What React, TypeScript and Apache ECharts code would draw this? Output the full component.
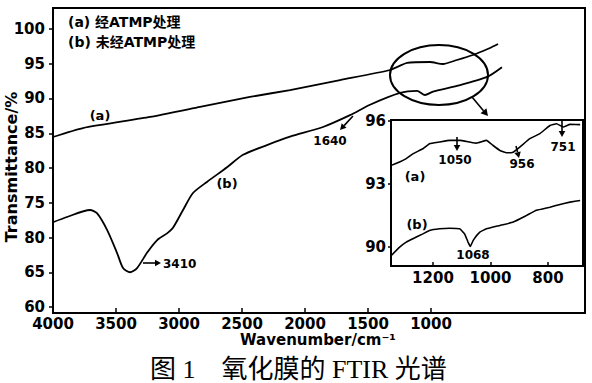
import React, { useEffect, useRef } from "react";
import * as echarts from "echarts";

// Main spectrum (a): treated with ATMP
const aMainWave = [4000, 3762, 3230, 2833, 2437, 2119, 1722, 1325, 1190, 1008, 905, 794, 667, 587, 532, 468];
const aMainT = [84.46, 85.75, 87.34, 88.78, 90.22, 91.22, 92.66, 94.1, 95.11, 95.25, 94.96, 95.54, 96.26, 96.83, 97.27, 97.84];

// Main spectrum (b): untreated
const bMainWave = [4000, 3889, 3706, 3651, 3571, 3492, 3444, 3389, 3333, 3254, 3175, 3095, 3048, 2968, 2889, 2778, 2619, 2492, 2302, 2119, 1857, 1643, 1484, 1246, 1111, 1048, 984, 794, 556, 437];
const bMainT = [72.2, 72.95, 73.96, 73.5, 71.1, 67.8, 65.6, 65.0, 65.6, 67.8, 69.6, 70.6, 71.4, 73.96, 76.4, 78.0, 80.1, 81.9, 83.3, 84.5, 85.9, 87.6, 89.1, 90.8, 91.1, 90.5, 91.0, 91.8, 93.1, 94.5];

// Inset (a)
const aInsetWave = [1345, 1316, 1293, 1270, 1235, 1212, 1177, 1142, 1107, 1072, 1049, 1014, 991, 967, 944, 921, 898, 863, 828, 793, 770, 747, 723, 688];
const aInsetT = [93.89, 94.05, 94.21, 94.44, 94.68, 94.92, 95.0, 95.08, 95.08, 95.0, 94.95, 95.08, 94.84, 94.6, 94.49, 94.52, 94.76, 95.16, 95.4, 95.79, 95.87, 95.72, 95.84, 95.83];

// Inset (b)
const bInsetWave = [1345, 1316, 1293, 1270, 1235, 1212, 1177, 1142, 1107, 1090, 1078, 1070, 1060, 1037, 1014, 967, 921, 874, 840, 793, 758, 723, 688];
const bInsetT = [89.6, 90.0, 90.24, 90.4, 90.63, 90.79, 90.87, 90.9, 90.87, 90.63, 90.24, 90.03, 90.32, 90.71, 90.87, 91.03, 91.19, 91.51, 91.75, 91.9, 92.03, 92.14, 92.22];

// Tick labels
const mainXTicks = [4000, 3500, 3000, 2500, 2000, 1500, 1000];
const mainYTicks = [60, 65, 70, 75, 80, 85, 90, 95, 100];
const mainYTickLabels = ["60", "65", "80", "75", "80", "85", "90", "95", "100"];
const insetXTicks = [1200, 1000, 800];
const insetYTicks = [90, 93, 96];

const legendLines = ["(a) 经ATMP处理", "(b) 未经ATMP处理"];
const xTitle = "Wavenumber/cm⁻¹";
const yTitle = "Transmittance/%";
const caption = "图 1　氧化膜的 FTIR 光谱";

const zip = (xs: number[], ys: number[]) => xs.map((x, i) => [x, ys[i]]);

const BOLD = "'DejaVu Sans', 'Noto Sans CJK SC', sans-serif";

function arrow(x1: number, y1: number, x2: number, y2: number, head = 6) {
  const ang = Math.atan2(y2 - y1, x2 - x1);
  const w = head * 0.55;
  const bx = x2 - head * Math.cos(ang);
  const by = y2 - head * Math.sin(ang);
  const px = -Math.sin(ang) * w;
  const py = Math.cos(ang) * w;
  return [
    { type: "line", shape: { x1, y1, x2: bx, y2: by }, style: { stroke: "#000", lineWidth: 1.6 }, z: 100 },
    {
      type: "polygon",
      shape: { points: [[x2, y2], [bx + px, by + py], [bx - px, by - py]] },
      style: { fill: "#000" },
      z: 100,
    },
  ];
}

function label(text: string, x: number, y: number, size = 12, align = "center") {
  return {
    type: "text",
    x,
    y,
    z: 100,
    style: {
      text,
      fontSize: size,
      fontWeight: "bold",
      fontFamily: BOLD,
      fill: "#000",
      align,
      verticalAlign: "middle",
    },
  };
}

export default function App() {
  const ref = useRef<HTMLDivElement>(null);

  useEffect(() => {
    if (!ref.current) return;
    const chart = echarts.init(ref.current, undefined, { renderer: "svg" });

    const axisLabelStyle = {
      color: "#000",
      fontSize: 15,
      fontWeight: "bold",
      fontFamily: BOLD,
    };
    const lineStyle = { color: "#000", width: 2 };
    const plain = (v: number) => String(Math.round(v));

    const option: any = {
      animation: false,
      backgroundColor: "#fff",
      grid: [
        {
          left: 53,
          top: 8,
          width: 532,
          height: 305,
          show: true,
          borderColor: "#000",
          borderWidth: 2,
          backgroundColor: "transparent",
        },
        {
          left: 391,
          top: 120,
          width: 192,
          height: 146,
          show: true,
          borderColor: "#000",
          borderWidth: 2,
          backgroundColor: "#fff",
          z: 5,
        },
      ],
      xAxis: [
        {
          gridIndex: 0,
          type: "value",
          inverse: true,
          min: -222,
          max: 4000,
          axisLine: { onZero: false, lineStyle },
          axisTick: { inside: true, length: 5, lineStyle: { color: "#000", width: 1.5 }, customValues: mainXTicks },
          axisLabel: { ...axisLabelStyle, margin: 3, customValues: mainXTicks, formatter: plain },
          splitLine: { show: false },
        },
        {
          gridIndex: 1,
          type: "value",
          inverse: true,
          min: 678,
          max: 1346,
          z: 6,
          axisLine: { onZero: false, lineStyle },
          axisTick: { inside: true, length: 4, lineStyle: { color: "#000", width: 1.5 }, customValues: insetXTicks },
          axisLabel: { ...axisLabelStyle, margin: 4, customValues: insetXTicks, formatter: plain },
          splitLine: { show: false },
        },
      ],
      yAxis: [
        {
          gridIndex: 0,
          type: "value",
          min: 59.14,
          max: 103.02,
          axisLine: { show: true, onZero: false, lineStyle },
          axisTick: { show: true, length: 4, lineStyle: { color: "#000", width: 1.5 }, customValues: mainYTicks },
          axisLabel: {
            ...axisLabelStyle,
            margin: 8,
            customValues: mainYTicks,
            formatter: (v: number) => {
              const i = mainYTicks.indexOf(Math.round(v));
              return i >= 0 ? mainYTickLabels[i] : "";
            },
          },
          splitLine: { show: false },
        },
        {
          gridIndex: 1,
          type: "value",
          min: 89.1,
          max: 96.05,
          z: 6,
          axisLine: { show: true, onZero: false, lineStyle },
          axisTick: { show: true, length: 3, lineStyle: { color: "#000", width: 1.5 }, customValues: insetYTicks },
          axisLabel: { ...axisLabelStyle, margin: 5, customValues: insetYTicks, formatter: plain },
          splitLine: { show: false },
        },
      ],
      series: [
        {
          type: "line",
          xAxisIndex: 0,
          yAxisIndex: 0,
          data: zip(aMainWave, aMainT),
          showSymbol: false,
          smooth: 0.2,
          lineStyle: { color: "#000", width: 1.8 },
        },
        {
          type: "line",
          xAxisIndex: 0,
          yAxisIndex: 0,
          data: zip(bMainWave, bMainT),
          showSymbol: false,
          smooth: 0.25,
          lineStyle: { color: "#000", width: 1.8 },
        },
        {
          type: "line",
          xAxisIndex: 1,
          yAxisIndex: 1,
          z: 7,
          data: zip(aInsetWave, aInsetT),
          showSymbol: false,
          smooth: 0.1,
          lineStyle: { color: "#000", width: 1.6 },
        },
        {
          type: "line",
          xAxisIndex: 1,
          yAxisIndex: 1,
          z: 7,
          data: zip(bInsetWave, bInsetT),
          showSymbol: false,
          smooth: 0.1,
          lineStyle: { color: "#000", width: 1.6 },
        },
      ],
      graphic: [
        // legend
        label(legendLines[0], 68, 22, 14, "left"),
        label(legendLines[1], 68, 42, 14, "left"),
        // curve labels
        label("(a)", 100, 115, 13),
        label("(b)", 227, 183, 13),
        // zoom ellipse
        {
          type: "ellipse",
          shape: { cx: 439, cy: 75, rx: 49, ry: 30 },
          style: { fill: "none", stroke: "#000", lineWidth: 2 },
          z: 100,
        },
        ...arrow(472, 97, 488, 116, 7),
        // 1640
        ...arrow(353, 116, 340, 130, 6),
        label("1640", 330, 141, 12),
        // 3410
        ...arrow(143, 263, 161, 263, 6),
        label("3410", 163, 264, 12, "left"),
        // inset annotations
        ...arrow(457, 137, 457, 151, 6),
        label("1050", 455, 160, 12),
        ...arrow(516, 146, 519, 158, 6),
        label("956", 522, 164, 12),
        ...arrow(562, 121, 562, 137, 6),
        label("751", 563, 147, 12),
        label("(a)", 415, 176, 13),
        label("(b)", 417, 224, 13),
        label("1068", 473, 255, 12),
        // axis titles
        label(xTitle, 318, 340, 15),
        {
          type: "text",
          x: 11,
          y: 167,
          rotation: Math.PI / 2,
          z: 100,
          style: {
            text: yTitle,
            fontSize: 16,
            fontWeight: "bold",
            fontFamily: BOLD,
            fill: "#000",
            align: "center",
            verticalAlign: "middle",
          },
        },
        // caption
        {
          type: "text",
          x: 150,
          y: 369,
          z: 100,
          style: {
            text: caption,
            fontSize: 26,
            fontFamily: "'Liberation Serif', 'Noto Sans CJK SC', serif",
            fill: "#000",
            align: "left",
            verticalAlign: "middle",
          },
        },
      ],
    };

    chart.setOption(option);
    return () => chart.dispose();
  }, []);

  return <div ref={ref} style={{ width: 592, height: 383, position: "absolute", left: 0, top: 0 }} />;
}
